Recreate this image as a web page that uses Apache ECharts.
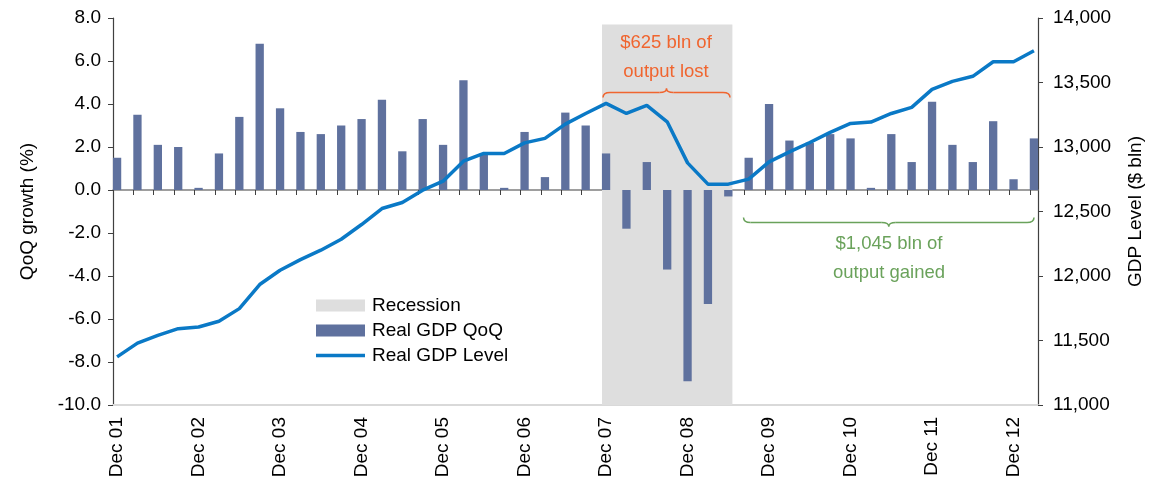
<!DOCTYPE html>
<html>
<head>
<meta charset="utf-8">
<script src="https://cdn.jsdelivr.net/npm/echarts@6/dist/echarts.min.js"></script>
<style>
  html, body { margin: 0; padding: 0; background: #fff; }
  #chart { width: 1161px; height: 482px; }
</style>
</head>
<body>
<div id="chart"></div>
<script>
// quarterly data, Dec 01 .. Mar 13 (46 quarters)
var qoqGrowth = [1.5, 3.5, 2.1, 2.0, 0.1, 1.7, 3.4, 6.8, 3.8, 2.7, 2.6, 3.0, 3.3, 4.2, 1.8, 3.3,
                 2.1, 5.1, 1.7, 0.1, 2.7, 0.6, 3.6, 3.0, 1.7, -1.8, 1.3, -3.7, -8.9, -5.3, -0.3,
                 1.5, 4.0, 2.3, 2.2, 2.6, 2.4, 0.1, 2.6, 1.3, 4.1, 2.1, 1.3, 3.2, 0.5, 2.4];
var gdpLevel = [11373, 11480, 11540, 11592, 11605, 11649, 11747, 11934, 12045, 12127, 12200,
                12285, 12399, 12523, 12570, 12665, 12735, 12890, 12950, 12950, 13032, 13067,
                13177, 13260, 13338, 13260, 13323, 13195, 12877, 12712, 12712, 12751, 12885,
                12962, 13035, 13113, 13183, 13193, 13260, 13307, 13447, 13509, 13548, 13661,
                13661, 13746];
var tickLabels = ['Dec 01', 'Dec 02', 'Dec 03', 'Dec 04', 'Dec 05', 'Dec 06',
                  'Dec 07', 'Dec 08', 'Dec 09', 'Dec 10', 'Dec 11', 'Dec 12'];
var recession = [24, 30];      // first / last quarter index
var recessionTop = 7.7;        // top of shading on the left axis

var FONT = "'Liberation Sans', Arial, sans-serif";
var BAR = '#5f719e', LINE = '#0a79c6', SHADE = '#dedede';
var ORANGE = '#f0652f', GREEN = '#6aa25b';

var labelIdx = tickLabels.map(function (_, i) { return i * 4; });
var allIdx = qoqGrowth.map(function (_, i) { return i; });

var chart = echarts.init(document.getElementById('chart'));

// curly brace built from quadratic curves; dir -1 = tip up, 1 = tip down
function brace(x0, x1, y, dir, color) {
  var xm = (x0 + x1) / 2, e = y - dir * 5, t = y + dir * 4, r = 7;
  var st = { stroke: color, lineWidth: 1.5, fill: null };
  function q(a, b, c, d, cx, cy) {
    return { type: 'bezierCurve', z: 100, shape: { x1: a, y1: b, x2: c, y2: d, cpx1: cx, cpy1: cy }, style: st };
  }
  function l(a, b, c, d) {
    return { type: 'line', z: 100, shape: { x1: a, y1: b, x2: c, y2: d }, style: st };
  }
  return [
    q(x0, e, x0 + r, y, x0, y),
    l(x0 + r, y, xm - r, y),
    q(xm - r, y, xm, t, xm, y),
    q(xm, t, xm + r, y, xm, y),
    l(xm + r, y, x1 - r, y),
    q(x1 - r, y, x1, e, x1, y)
  ];
}

var option = {
  animation: false,
  textStyle: { fontFamily: FONT },
  grid: { left: 113, right: 123, top: 18, bottom: 77 },
  legend: {
    orient: 'vertical', left: 311, top: 291,
    itemWidth: 49, itemHeight: 12, itemGap: 6,
    textStyle: { fontSize: 19, color: '#000', padding: [0, 0, 0, 2] },
    data: [
      { name: 'Recession', icon: 'rect', itemStyle: { color: SHADE } },
      { name: 'Real GDP QoQ', icon: 'rect' },
      // thin bar, padded to the full icon box so it is not stretched
      { name: 'Real GDP Level',
        icon: 'path://M0,0L0.01,0L0.01,0.01ZM0,4.2L49,4.2L49,7.8L0,7.8ZM48.99,12L49,12L49,11.99Z' }
    ]
  },
  xAxis: [
    {
      type: 'value', min: -0.2, max: 45.2, position: 'bottom',
      splitLine: { show: false },
      axisLine: { onZero: false, lineStyle: { color: '#d9d9d9', width: 2 } },
      axisTick: { show: false },
      axisLabel: {
        customValues: labelIdx, rotate: 90, margin: 12,
        fontSize: 19, color: '#000',
        formatter: function (v) { return tickLabels[Math.round(v) / 4]; }
      }
    },
    {
      type: 'value', min: 0, max: 45.4, position: 'bottom',
      splitLine: { show: false },
      axisLine: { onZero: true, onZeroAxisIndex: 0, lineStyle: { color: '#7f7f7f', width: 1.5 } },
      axisTick: { customValues: allIdx, length: 5, lineStyle: { color: '#404040' } },
      axisLabel: { show: false }
    }
  ],
  yAxis: [
    {
      type: 'value', min: -10, max: 8, interval: 2, position: 'left',
      name: 'QoQ growth (%)', nameLocation: 'middle', nameGap: 76, nameRotate: 90,
      nameTextStyle: { fontSize: 19, color: '#000' },
      splitLine: { show: false },
      axisLine: { show: true, onZero: false, lineStyle: { color: '#404040', width: 1.2 } },
      axisTick: { show: true, length: 5, lineStyle: { color: '#404040' } },
      axisLabel: { fontSize: 19, color: '#000', margin: 12,
        formatter: function (v) { return v.toFixed(1); } }
    },
    {
      type: 'value', min: 11000, max: 14000, interval: 500, position: 'right',
      name: 'GDP Level ($ bln)', nameLocation: 'middle', nameGap: 88, nameRotate: 90,
      nameTextStyle: { fontSize: 19, color: '#000' },
      splitLine: { show: false },
      axisLine: { show: true, onZero: false, lineStyle: { color: '#404040', width: 1.2 } },
      axisTick: { show: true, length: 5, lineStyle: { color: '#404040' } },
      axisLabel: { fontSize: 19, color: '#000', margin: 15,
        formatter: function (v) { return v.toLocaleString('en-US'); } }
    }
  ],
  series: [
    {
      name: 'Recession', type: 'custom', xAxisIndex: 0, yAxisIndex: 0, z: 1,
      itemStyle: { color: SHADE },
      data: [[recession[0], recession[1], recessionTop]],
      renderItem: function (params, api) {
        var p0 = api.coord([api.value(0) - 0.2, api.value(2)]);
        var p1 = api.coord([api.value(1) + 0.2, -10]);
        return { type: 'rect', shape: { x: p0[0], y: p0[1], width: p1[0] - p0[0], height: p1[1] - p0[1] },
                 style: { fill: SHADE } };
      }
    },
    {
      name: 'Real GDP QoQ', type: 'bar', xAxisIndex: 0, yAxisIndex: 0, z: 2,
      barWidth: 8.3, itemStyle: { color: BAR },
      data: qoqGrowth.map(function (v, i) { return [i, v]; })
    },
    {
      name: 'Real GDP Level', type: 'line', xAxisIndex: 0, yAxisIndex: 1, z: 3,
      symbol: 'none', lineStyle: { color: LINE, width: 3.5 }, itemStyle: { color: LINE },
      data: gdpLevel.map(function (v, i) { return [i, v]; })
    }
  ],
  graphic: [
    { type: 'text', z: 100, x: 666, y: 57, style: { text: '$625 bln of\noutput lost', fill: ORANGE,
      font: '18.5px ' + FONT, align: 'center', verticalAlign: 'middle', lineHeight: 29 } },
    { type: 'text', z: 100, x: 889, y: 258, style: { text: '$1,045 bln of\noutput gained', fill: GREEN,
      font: '18.5px ' + FONT, align: 'center', verticalAlign: 'middle', lineHeight: 29 } }
  ].concat(brace(603, 730, 92.5, -1, ORANGE), brace(743.5, 1034, 222.5, 1, GREEN))
};

chart.setOption(option);
</script>
</body>
</html>
